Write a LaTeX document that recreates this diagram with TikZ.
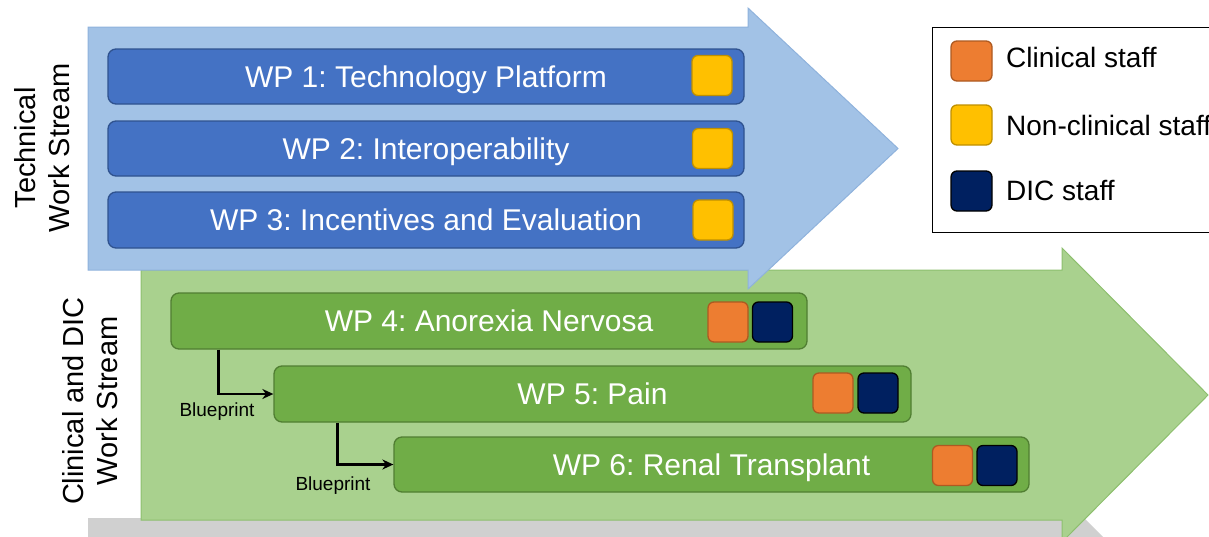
\documentclass[tikz,border=0pt]{standalone}
\usepackage{fontspec}
\setmainfont{Liberation Sans}
\usetikzlibrary{arrows.meta,calc}
\frenchspacing
\definecolor{arrowblue}{HTML}{A2C2E6}
\definecolor{arrowblueborder}{HTML}{8FB2DC}
\definecolor{boxblue}{HTML}{4472C4}
\definecolor{boxblueborder}{HTML}{2F528F}
\definecolor{arrowgreen}{HTML}{A9D18E}
\definecolor{arrowgreenborder}{HTML}{8DBF6E}
\definecolor{boxgreen}{HTML}{70AD47}
\definecolor{boxgreenborder}{HTML}{507E32}
\definecolor{staffyellow}{HTML}{FFC000}
\definecolor{staffyellowborder}{HTML}{BF9000}
\definecolor{stafforange}{HTML}{ED7D31}
\definecolor{stafforangeborder}{HTML}{AE5A21}
\definecolor{staffnavy}{HTML}{002060}
\definecolor{arrowgray}{HTML}{D0D0D0}
\begin{document}
\begin{tikzpicture}[x=1pt,y=-1pt,
  wpbox/.style={rounded corners=8pt, line width=1.3pt, text=white, inner sep=0pt,
    font=\fontsize{30}{33}\selectfont\frenchspacing, text depth=0pt},
  wpblue/.style={wpbox, draw=boxblueborder, fill=boxblue},
  wpgreen/.style={wpbox, draw=boxgreenborder, fill=boxgreen},
  sq/.style={rounded corners=6pt, line width=1.3pt, inner sep=0pt, minimum width=40pt, minimum height=40pt},
  yellowsq/.style={sq, draw=staffyellowborder, fill=staffyellow},
  orangesq/.style={sq, draw=stafforangeborder, fill=stafforange},
  navysq/.style={sq, draw=black, fill=staffnavy},
  legtext/.style={anchor=base west, inner sep=0pt, font=\fontsize{28}{30}\selectfont},
  streamlabel/.style={rotate=90, align=center, inner sep=0pt, font=\fontsize{29}{34}\selectfont},
  bptext/.style={inner sep=0pt, font=\fontsize{19}{21}\selectfont},
  blueprint/.style={line width=2.8pt, -{Stealth[length=11pt,width=10pt]}}
]
\useasboundingbox (0,0) rectangle (1209,536);
\clip (0,0) rectangle (1209,536);

% background stream arrows
\path[fill=arrowgray] (88,518) -- (1062,518) -- (1062,496) -- (1208,642) -- (1062,788) -- (88,788) -- cycle;
\path[fill=arrowgreen, draw=arrowgreenborder, line width=1pt]
  (141,270) -- (1062,270) -- (1062,248) -- (1208,395) -- (1062,542) -- (1062,520) -- (141,520) -- cycle;
\path[fill=arrowblue, draw=arrowblueborder, line width=1pt]
  (88,27) -- (748,27) -- (748,8) -- (898,148.5) -- (748,289) -- (748,270) -- (88,270) -- cycle;

% stream labels
\node[streamlabel] (techlabel) at (42,148) {Technical\\Work Stream};
\node[streamlabel] (cliniclabel) at (90,401) {Clinical and DIC\\Work Stream};

% technical work packages
\node[wpblue, minimum width=636pt, minimum height=55pt] (wp1) at (426,76.5) {WP 1: Technology Platform};
\node[wpblue, minimum width=636pt, minimum height=55pt] (wp2) at (426,148.5) {WP 2: Interoperability};
\node[wpblue, minimum width=636pt, minimum height=56pt] (wp3) at (426,220) {WP 3: Incentives and Evaluation};
\node[yellowsq] (wp1y) at (712,75.5) {};
\node[yellowsq] (wp2y) at (712.5,148.5) {};
\node[yellowsq] (wp3y) at (713,220) {};

% clinical work packages
\node[wpgreen, minimum width=636pt, minimum height=56pt] (wp4) at (489,321) {WP 4: Anorexia Nervosa};
\node[wpgreen, minimum width=637pt, minimum height=56pt] (wp5) at (592.5,394) {WP 5: Pain};
\node[wpgreen, minimum width=635pt, minimum height=55pt] (wp6) at (711.5,464.5) {WP 6: Renal Transplant};
\node[orangesq] (wp4o) at (728,322) {};
\node[navysq] (wp4n) at (772.5,322) {};
\node[orangesq] (wp5o) at (833,393) {};
\node[navysq] (wp5n) at (878,393) {};
\node[orangesq] (wp6o) at (952.5,465.5) {};
\node[navysq] (wp6n) at (997,465.5) {};

% blueprint connectors
\coordinate (bp1) at ($(wp4.south west)+(48,0)$);
\coordinate (bp2) at ($(wp5.south west)+(64,0)$);
\draw[blueprint] (bp1) |- (wp5.west);
\draw[blueprint] (bp2) |- (wp6.west);
\node[bptext] (bp1label) at (217,412) {Blueprint};
\node[bptext] (bp2label) at (333,486) {Blueprint};

% legend
\node[draw=black, line width=1pt, fill=white, minimum width=290pt, minimum height=205pt, anchor=north west, inner sep=0pt] (legend) at (932,27) {};
\node[orangesq, minimum width=41pt] (lego) at (971.5,61) {};
\node[yellowsq, minimum width=41pt] (legy) at (971.5,125) {};
\node[navysq, minimum width=41pt] (legn) at (971.5,191) {};
\node[legtext] (legot) at (1006,67) {Clinical staff};
\node[legtext] (legyt) at (1006,135) {Non-clinical staff};
\node[legtext] (legnt) at (1006,200) {DIC staff};
\end{tikzpicture}
\end{document}
